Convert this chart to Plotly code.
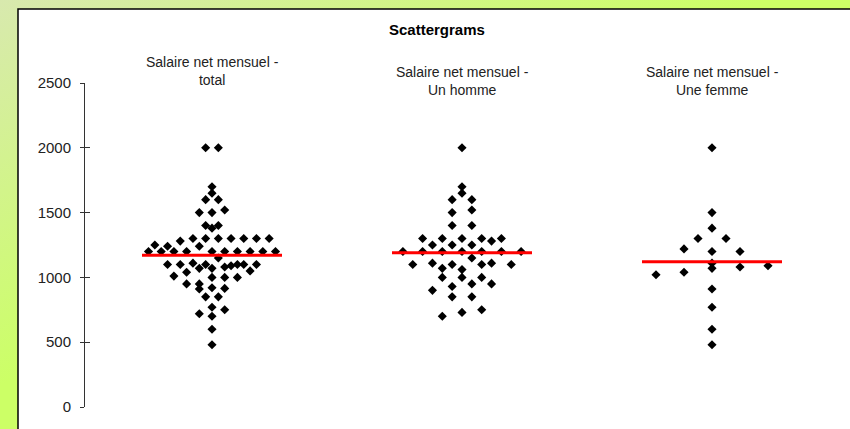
import base64

import plotly.graph_objects as go

# --- data ---
group_labels = ["Salaire net mensuel -<br>total",
                "Salaire net mensuel -<br>Un homme",
                "Salaire net mensuel -<br>Une femme"]

total_values = [2000, 2000, 1700, 1650, 1600, 1600, 1500, 1500, 1520, 1400, 1400, 1380,
                1300, 1300, 1300, 1300, 1300, 1300, 1300, 1280, 1250, 1240, 1240,
                1200, 1200, 1200, 1200, 1200, 1200, 1200, 1200, 1200, 1200, 1150,
                1100, 1100, 1110, 1070, 1100, 1070, 1080, 1090, 1100, 1100, 1100, 1050,
                1010, 1040, 1000, 1000, 1000,
                950, 950, 910, 920, 915,
                850, 850, 770, 750, 720, 700, 600, 480]
total_slots = [-0.5, 0.5, 0, 0, -0.5, 0.5, -1, 0, 1, -0.5, 0.5, 0,
               -1.5, -0.5, 0.5, 1.5, 2.5, 3.5, 4.5, -2.5, -4.5, -3.5, -1,
               -5, -4, -3, -2, 0, 1, 2, 3, 4, 5, 0.5,
               -3.5, -2.5, -1.5, -1, -0.5, 0, 1, 1.5, 2, 2.5, 3.5, 3,
               -3, -2, 0, 1, 2,
               -2, -1, -1, 0, 1,
               -0.5, 0.5, 0, 1, -1, 0, 0, 0]

homme_values = [2000, 1700, 1650, 1600, 1600, 1500, 1520, 1400, 1400,
                1300, 1300, 1300, 1300, 1300, 1280, 1250, 1250, 1250,
                1200, 1200, 1200, 1200, 1200, 1200, 1200, 1150,
                1100, 1110, 1100, 1100, 1110, 1100, 1070, 1060,
                1000, 1000, 1000, 950, 950, 930, 900, 850, 850, 700, 730, 750]
homme_slots = [0, 0, 0, -0.5, 0.5, -0.5, 0.5, -0.5, 0.5,
               -2, -1, 0, 1, 2, 1.5, -1.5, -0.5, 0.5,
               -3, -2, -1, 0, 1, 2, 3, 0.5,
               -2.5, -1.5, -0.5, 1, 1.5, 2.5, -1, 0,
               -1, 0, 1, 0.5, 1.5, -0.5, -1.5, -0.5, 0.5, -1, 0, 1]

femme_values = [2000, 1500, 1380, 1300, 1300, 1220, 1200, 1200, 1110,
                1070, 1080, 1090, 1040, 1020, 910, 770, 600, 480]
femme_slots = [0, 0, 0, -0.5, 0.5, -1, 0, 1, 0, 0, 1, 2, -1, -2, 0, 0, 0, 0]

means = [1170, 1190, 1120]

y_ticks = [0, 500, 1000, 1500, 2000, 2500]

# --- layout constants (pixels) ---
FONT = "Liberation Sans, Arial, sans-serif"
W, H = 850, 429
ML, MT = 85, 83
MB = H - 407
MR = W - 837
PW, PH = W - ML - MR, H - MT - MB
slot_width = [0.0508, 0.0788, 0.112]   # horizontal spacing of stacked points, per column
half_line = 0.28


def px_to_paper_x(px):
    return (px - ML) / PW


def px_to_paper_y(py):
    return (H - MB - py) / PH


fig = go.Figure()

groups = [(total_values, total_slots), (homme_values, homme_slots), (femme_values, femme_slots)]
for i, (vals, slots) in enumerate(groups):
    fig.add_trace(go.Scatter(
        x=[i + s * slot_width[i] for s in slots],
        y=vals,
        mode="markers",
        marker=dict(symbol="diamond", size=7, color="black"),
        showlegend=False,
        hoverinfo="y",
    ))

for i, m in enumerate(means):
    fig.add_trace(go.Scatter(
        x=[i - half_line, i + half_line],
        y=[m, m],
        mode="lines",
        line=dict(color="#ff0000", width=3),
        yaxis="y2",
        showlegend=False,
        hoverinfo="y",
    ))

# green gradient backdrop as an inline svg
svg = (
    f'<svg xmlns="http://www.w3.org/2000/svg" width="{W}" height="{H}" preserveAspectRatio="none">'
    '<defs><linearGradient id="g" x1="0" y1="0" x2="1" y2="1">'
    '<stop offset="0" stop-color="#d8e9ae"/><stop offset="0.45" stop-color="#ccff66"/>'
    '<stop offset="1" stop-color="#ccff66"/></linearGradient></defs>'
    f'<rect width="{W}" height="{H}" fill="url(#g)"/></svg>'
)
svg_uri = "data:image/svg+xml;base64," + base64.b64encode(svg.encode()).decode()

fig.add_layout_image(dict(
    source=svg_uri, xref="paper", yref="paper",
    x=px_to_paper_x(0), y=px_to_paper_y(0),
    sizex=W / PW, sizey=H / PH, sizing="stretch",
    xanchor="left", yanchor="top", layer="below",
))

# white chart area with dark border
fig.add_shape(type="rect", xref="paper", yref="paper",
              x0=px_to_paper_x(18), x1=px_to_paper_x(W + 5),
              y0=px_to_paper_y(H + 5), y1=px_to_paper_y(9),
              fillcolor="white", line=dict(color="black", width=1.5), layer="below")

fig.add_annotation(text="<b>Scattergrams</b>", xref="paper", yref="paper",
                   x=px_to_paper_x(437), y=px_to_paper_y(30), yanchor="middle",
                   showarrow=False, font=dict(family=FONT, size=15, color="black"))

label_y = [71, 81, 81]
for i, lab in enumerate(group_labels):
    fig.add_annotation(text=lab, xref="x", yref="paper", x=i,
                       y=px_to_paper_y(label_y[i]), yanchor="middle", showarrow=False,
                       font=dict(family=FONT, size=14, color="#222"))

fig.update_layout(
    width=W, height=H,
    margin=dict(l=ML, r=MR, t=MT, b=MB),
    paper_bgcolor="rgba(0,0,0,0)",
    plot_bgcolor="rgba(0,0,0,0)",
    font=dict(family=FONT, size=14, color="#222"),
    xaxis=dict(range=[-0.508, 2.5], visible=False),
    yaxis=dict(range=[0, 2500], tickvals=y_ticks, showgrid=False, zeroline=False,
               showline=True, linecolor="#333", linewidth=1,
               ticks="outside", ticklen=4, tickcolor="#333",
               ticklabelstandoff=6, tickfont=dict(family=FONT, size=15, color="#222")),
    yaxis2=dict(range=[0, 2500], overlaying="y", side="left", tickvals=y_ticks,
                showgrid=False, zeroline=False, showline=False, showticklabels=False,
                ticks="inside", ticklen=5, tickcolor="#333"),
)

# drop the default page margin so the figure sits at the window's corner
fig.write_html("out.html", config={"displayModeBar": False},
               post_script="document.body.style.margin = '0';")
